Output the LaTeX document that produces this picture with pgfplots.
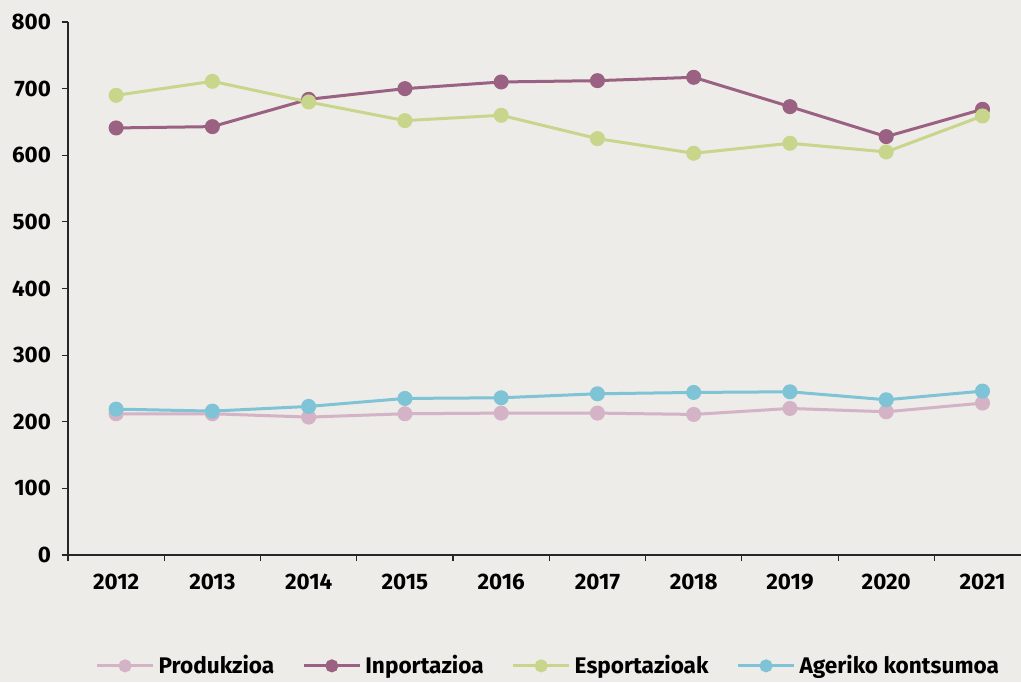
\documentclass[border=0pt]{standalone}
\usepackage{pgfplots}
\pgfplotsset{compat=1.18}
\usepackage{fontspec}
\setmainfont{Fira Sans}
\definecolor{bg}{HTML}{EDECE8}
\definecolor{prod}{HTML}{D4B3C7}
\definecolor{inpo}{HTML}{9A6182}
\definecolor{espo}{HTML}{C8D68C}
\definecolor{ager}{HTML}{7FC4D6}
\begin{document}
\begin{tikzpicture}[x=1pt,y=1pt]
  \fill[bg] (-34,-63.5) rectangle (476.5,277.5);
  \useasboundingbox (-34,-63.5) rectangle (476.5,277.5);
  \begin{axis}[
      at={(0,0)}, anchor=south west,
      scale only axis,
      width=476.5pt, height=266.5pt,
      xmin=-0.5, xmax=9.4,
      ymin=0, ymax=800,
      axis x line*=bottom, axis y line*=left,
      axis line style={black!85, line width=0.6pt},
      xtick={0,...,9},
      xticklabels={2012,2013,2014,2015,2016,2017,2018,2019,2020,2021},
      major x tick style={draw=none},
      minor xtick={-0.5,0.5,...,8.5},
      minor x tick style={black!85, line width=0.6pt},
      minor tick length=3pt,
      ytick={0,100,...,800},
      major y tick style={black!85, line width=0.6pt},
      major tick length=3pt,
      tick align=outside,
      /pgf/number format/assume math mode=true,
      tick label style={font=\fontsize{11.2}{13}\selectfont\bfseries},
      yticklabel style={xshift=-2pt},
      xticklabel style={yshift=-3pt},
      every axis plot/.append style={line width=1.5pt, mark=*, mark size=3pt},
      legend style={
        at={(axis description cs:0.505,-0.208)}, anchor=center,
        draw=none, fill=none,
        font=\fontsize{11.3}{13}\selectfont\bfseries,
        /tikz/every even column/.append style={column sep=12pt},
      },
      legend columns=4,
      legend image code/.code={
        \draw[mark repeat=2, mark phase=2, mark size=2.5pt]
          plot coordinates {(0pt,0pt) (14pt,0pt) (28pt,0pt)};},
    ]
    \addplot[color=prod] coordinates {
      (0,212) (1,212) (2,207) (3,212) (4,213)
      (5,213) (6,211) (7,220) (8,215) (9,228)};
    \addplot[color=inpo] coordinates {
      (0,641) (1,643) (2,684) (3,700) (4,710)
      (5,712) (6,717) (7,673) (8,628) (9,669)};
    \addplot[color=espo] coordinates {
      (0,690) (1,711) (2,680) (3,652) (4,660)
      (5,625) (6,603) (7,618) (8,605) (9,659)};
    \addplot[color=ager] coordinates {
      (0,219) (1,216) (2,223) (3,235) (4,236)
      (5,242) (6,244) (7,245) (8,233) (9,246)};
    \legend{Produkzioa, Inportazioa, Esportazioak, Ageriko kontsumoa}
  \end{axis}
\end{tikzpicture}
\end{document}
